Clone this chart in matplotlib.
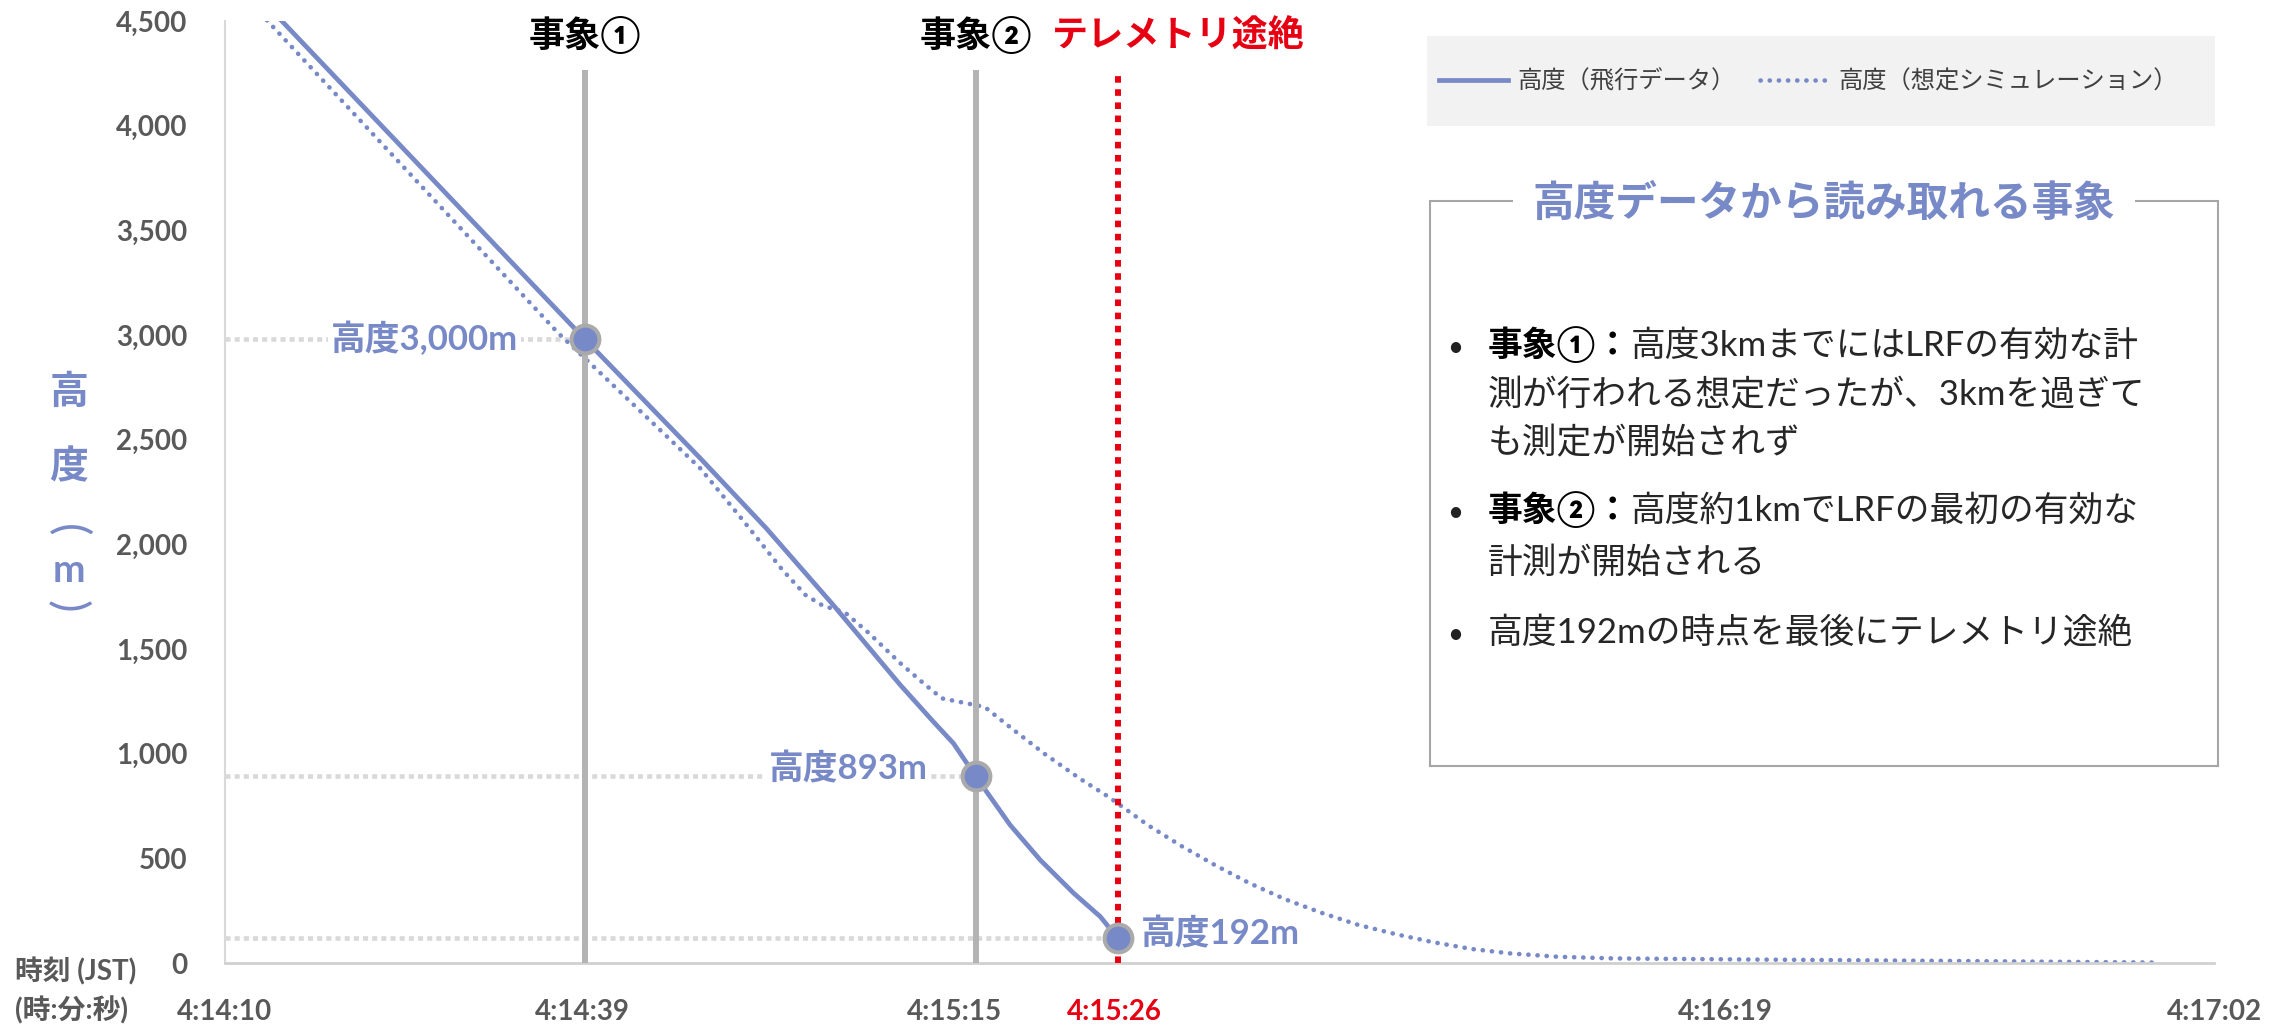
import matplotlib.pyplot as plt
from matplotlib.patches import Rectangle

plt.rcParams['font.family'] = ['Lato', 'Noto Sans CJK JP']

# x = position along the time axis (category-like index, 0 = 4:14:10, 172 = 4:17:02)
flight_x = [2.5, 31.1, 41.1, 46.8, 52.6, 58.4, 61.25, 63.0, 64.9, 67.9, 70.5, 73.4, 75.7, 77.2]
flight_h = [4640, 2981, 2411, 2077, 1710, 1328, 1153, 1049, 893, 659, 492, 333, 221, 118]

sim_x = [2.0, 28.8, 31.1, 41.1, 44.7, 48.2, 50.2, 51.7, 53.6, 55.7, 58.4, 60.6, 62.0, 63.9,
         65.7, 67.9, 70.9, 74.0, 76.4, 79.8, 82.7, 85.6, 88.6, 91.7, 94.8, 98.0, 101.3,
         104.5, 107.8, 111.1, 115.2, 120.0, 131.0, 151.0, 167.3]
sim_h = [4600, 3010, 2890, 2363, 2121, 1878, 1758, 1707, 1675, 1575, 1432, 1327, 1264, 1243,
         1223, 1126, 998, 878, 794, 659, 559, 468, 381, 304, 240, 182, 137,
         99, 67, 46, 30, 22, 17, 9, 2]

point_x = [31.1, 64.9, 77.2]
point_h = [2981, 893, 118]
point_labels = ['高度3,000m', '高度893m', '高度192m']

event_x = [31.1, 64.9]
event_labels = ['事象①', '事象②']
lost_x = 77.2
lost_label = 'テレメトリ途絶'

tick_pos = [0, 30.9, 63.1, 76.9, 129.7, 172]
tick_labels = ['4:14:10', '4:14:39', '4:15:15', '4:15:26', '4:16:19', '4:17:02']
y_ticks = list(range(0, 4501, 500))

legend_labels = ['高度（飛行データ）', '高度（想定シミュレーション）']
box_title = '高度データから読み取れる事象'
box_lines = [
    (345, '事象①：', '高度3kmまでにはLRFの有効な計', True),
    (395, '', '測が行われる想定だったが、3kmを過ぎて', False),
    (443, '', 'も測定が開始されず', False),
    (510, '事象②：', '高度約1kmでLRFの最初の有効な', True),
    (563, '', '計測が開始される', False),
    (632, '', '高度192mの時点を最後にテレメトリ途絶', True),
]

BLUE = '#7889c7'
GRAY_TXT = '#595959'
RED = '#e60012'
W, H = 2293, 1031


def fx(px):
    return px / W


def fy(py):
    return 1 - py / H


fig = plt.figure(figsize=(W / 100, H / 100), dpi=100)
ax = fig.add_axes([fx(225), fy(963), fx(2214) - fx(225), fy(21) - fy(963)])

# guides to the marked points
ax.hlines(point_h, 0, point_x, colors='#d9d9d9', lw=3.3, linestyles=(0, (1.1, 0.9)), zorder=1)

sim_line, = ax.plot(sim_x, sim_h, color=BLUE, lw=3.3, linestyle=(0, (0.05, 1.95)),
                    dash_capstyle='round', zorder=2)
ax.vlines(event_x, 0, 4266, colors='#b3b3b3', lw=4.3, zorder=3)
ax.vlines(lost_x, 0, 4266, colors=RED, lw=4.3, linestyles=(0, (1.1, 1.1)), zorder=3)
flight_line, = ax.plot(flight_x, flight_h, color=BLUE, lw=3.4, zorder=4)
ax.plot(point_x, point_h, 'o', ms=20, mfc=BLUE, mec='#aaaaaa', mew=2.9, zorder=5)

offsets = [(-48, 0, 'right'), (-34.5, 5, 'right'), (17, 3, 'left')]
for x, h, lab, (dx, dy, ha) in zip(point_x, point_h, point_labels, offsets):
    ax.annotate(lab, xy=(x, h), xytext=(dx, dy), textcoords='offset points', ha=ha, va='center',
                fontsize=25, fontweight='bold', color=BLUE, zorder=6,
                bbox=dict(fc='white', ec='none', pad=2))

for x, lab in zip(event_x, event_labels):
    ax.text(x, 0.985, lab, transform=ax.get_xaxis_transform(), ha='center', va='center',
            fontsize=26, fontweight='bold', color='black')
ax.text(71.5, 0.985, lost_label, transform=ax.get_xaxis_transform(), ha='left', va='center',
        fontsize=26, fontweight='bold', color=RED)

ax.set_xlim(0, 172)
ax.set_ylim(0, 4500)
ax.set_yticks(y_ticks)
ax.set_yticklabels([f'{v:,}' for v in y_ticks])
ax.set_xticks(tick_pos)
ax.set_xticklabels(tick_labels)
for lab in ax.get_xticklabels() + ax.get_yticklabels():
    lab.set_fontsize(20)
    lab.set_fontweight('bold')
    lab.set_color(GRAY_TXT)
ax.get_xticklabels()[3].set_color(RED)
ax.tick_params(axis='x', length=0, pad=26)
ax.tick_params(axis='y', length=0, pad=27)
for s in ['top', 'right']:
    ax.spines[s].set_visible(False)
ax.spines['left'].set_color('#d9d9d9')
ax.spines['left'].set_linewidth(1.5)
ax.spines['bottom'].set_color('#d0d0d0')
ax.spines['bottom'].set_linewidth(2)

# vertical axis title (brackets drawn as rotated parentheses)
for ch, px, py, size, wt in [('高', 69, 392, 28, 'bold'), ('度', 69, 466, 28, 'bold'),
                             ('m', 69, 570, 28, 'bold')]:
    fig.text(fx(px), fy(py), ch, ha='center', va='center', fontsize=size, fontweight=wt, color=BLUE)
for ch, py in [('(', 530), (')', 606)]:
    fig.text(fx(67), fy(py), ch, ha='center', va='center', rotation=-90, rotation_mode='anchor',
             fontsize=34, fontweight='normal', color=BLUE)

fig.text(fx(15), fy(971), '時刻 (JST)', ha='left', va='center', fontsize=20,
         fontweight='bold', color=GRAY_TXT)
fig.text(fx(15), fy(1010), '(時:分:秒)', ha='left', va='center', fontsize=20,
         fontweight='bold', color=GRAY_TXT)

# legend
fig.patches.append(Rectangle((fx(1427), fy(126)), fx(2215) - fx(1427), fy(36) - fy(126),
                             transform=fig.transFigure, fc='#f2f2f2', ec='none', zorder=1))
fig.legend([flight_line, sim_line], legend_labels, loc='center left',
           bbox_to_anchor=(fx(1439), fy(81)), bbox_transform=fig.transFigure,
           frameon=False, ncol=2, fontsize=17.5, handlelength=2.85, handletextpad=0.37,
           columnspacing=1.0, borderpad=0, borderaxespad=0, labelcolor='#404040')

# info box
fig.patches.append(Rectangle((fx(1430), fy(766)), fx(2218) - fx(1430), fy(201) - fy(766),
                             transform=fig.transFigure, fc='white', ec='#a6a6a6', lw=1.5, zorder=1))
fig.text(fx(1824), fy(203), box_title, ha='center', va='center', fontsize=30, fontweight='bold',
         color=BLUE, bbox=dict(fc='white', ec='none', pad=14), zorder=4)

renderer = fig.canvas.get_renderer()
for py, bold, rest, bullet in box_lines:
    if bullet:
        fig.text(fx(1455), fy(py + 3), '•', ha='center', va='center', fontsize=20, color='#222222')
    x0 = fx(1488)
    if bold:
        tb = fig.text(x0, fy(py), bold, ha='left', va='center', fontsize=25,
                      fontweight='bold', color='black')
        x0 = fig.transFigure.inverted().transform((tb.get_window_extent(renderer).x1, 0))[0]
    fig.text(x0, fy(py), rest, ha='left', va='center', fontsize=25, color='#262626')

fig.savefig('out.png', dpi=100, facecolor='white')
